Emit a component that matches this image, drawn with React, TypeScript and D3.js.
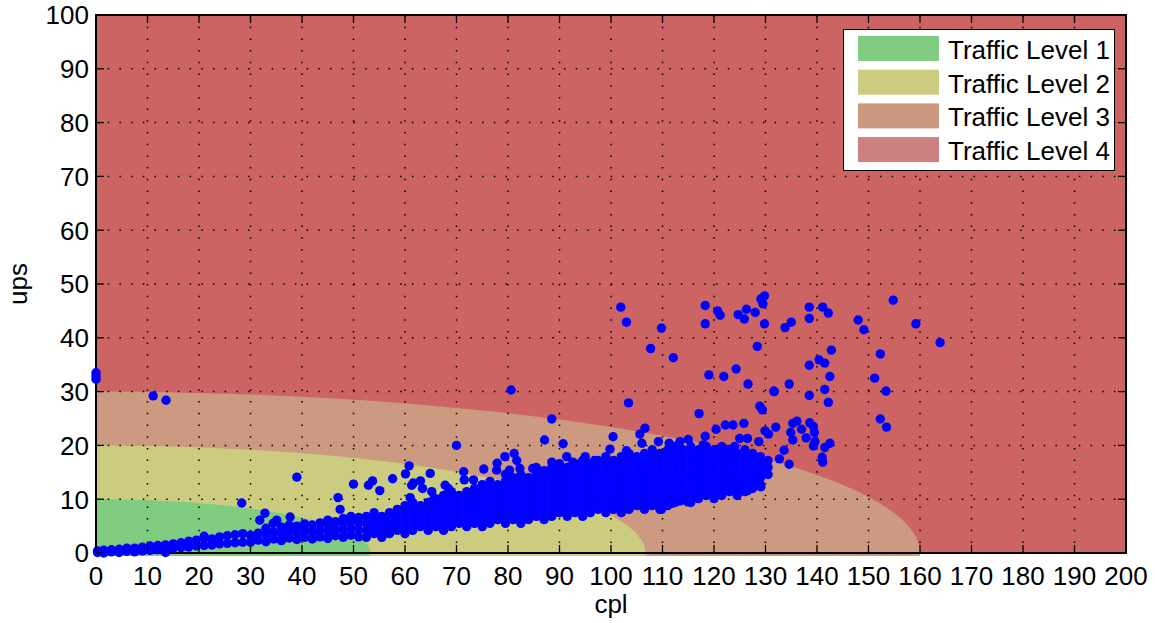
import React from "react";
import * as d3 from "d3";

const width = 1155;
const height = 623;
const margin = { top: 15, right: 29, bottom: 70, left: 96 };

const levelNames = ["Traffic Level 1", "Traffic Level 2", "Traffic Level 3", "Traffic Level 4"];
// semi-axes of each traffic zone (cpl, ups)
const levelCpl = [53.3, 106.7, 160];
const levelUps = [10, 20, 30];
const zoneFills = ["#80cc80", "#cccc80", "#cc9a80", "#cc6464"];
const legendFills = ["#80cc80", "#cccc80", "#cc9980", "#cc8080"];

// the dense band: [cpl, ups, ups, ...]
const bandColumns: number[][] = [
  [0.3, 0.1, 0.4], [1.5, 0.0, 0.5], [3, 0.2, 0.6], [4.5, 0.1, 0.7], [6, 0.3, 0.9],
  [7.5, 0.2, 0.9], [9, 0.4, 1.1], [10.5, 0.5, 1.3], [12, 0.6, 1.4], [13.5, 0.1, 0.8, 1.5],
  [15, 0.9, 1.7], [16.5, 1.0, 1.9], [18, 1.1, 2.2], [19.5, 1.3, 2.4], [21, 1.4, 2.7, 3.1],
  [22.5, 1.5, 2.6], [24, 1.7, 3.0], [25.5, 1.8, 3.2], [27, 1.9, 3.4], [28.5, 2.0, 3.6],
  [30, 2.0, 3.3], [31.5, 2.4, 3.7], [33, 2.1, 3.4, 4.6], [34.5, 2.6, 3.9], [36, 2.3, 3.6, 4.8],
  [37.5, 2.8, 4.1, 5.2], [39, 2.5, 3.8, 5.0], [40.5, 2.9, 4.2, 5.4], [42, 2.6, 3.9, 5.2],
  [43.5, 3.0, 4.3, 5.6], [45, 2.7, 4.0, 5.3, 6.1], [46.5, 3.2, 4.5, 5.8], [48, 2.9, 4.2, 5.5, 6.4],
  [49.5, 3.3, 4.6, 5.9, 6.8], [51, 3.0, 4.3, 5.6, 6.6],
  [52.5, 2.9, 4.2, 5.5, 6.8], [54, 3.6, 4.9, 6.2, 7.5], [55.5, 2.9, 4.2, 5.5, 6.8],
  [57, 3.6, 4.9, 6.2, 7.5], [58.5, 4.2, 5.5, 6.8, 8.1], [60, 3.6, 4.9, 6.2, 7.5, 8.8],
  [61.5, 4.2, 5.5, 6.8, 8.1, 9.4], [63, 4.9, 6.2, 7.5, 8.8], [64.5, 4.2, 5.5, 6.8, 8.1, 9.4],
  [66, 4.9, 6.2, 7.5, 8.8, 10.1], [67.5, 4.2, 5.5, 6.8, 8.1, 9.4, 10.7],
  [69, 4.9, 6.2, 7.5, 8.8, 10.1, 11.4], [70.5, 5.5, 6.8, 8.1, 9.4, 10.7],
  [72, 4.9, 6.2, 7.5, 8.8, 10.1, 11.4], [73.5, 5.5, 6.8, 8.1, 9.4, 10.7, 12.0],
  [75, 4.9, 6.2, 7.5, 8.8, 10.1, 11.4, 12.7], [76.5, 5.5, 6.8, 8.1, 9.4, 10.7, 12.0, 13.3],
  [78, 6.2, 7.5, 8.8, 10.1, 11.4, 12.7], [79.5, 5.5, 6.8, 8.1, 9.4, 10.7, 12.0, 13.3, 14.6],
  [81, 6.2, 7.5, 8.8, 10.1, 11.4, 12.7, 14.0], [82.5, 5.5, 6.8, 8.1, 9.4, 10.7, 12.0, 13.3, 14.6],
  [84, 6.2, 7.5, 8.8, 10.1, 11.4, 12.7, 14.0], [85.5, 6.8, 8.1, 9.4, 10.7, 12.0, 13.3, 14.6, 15.9],
  [87, 6.2, 7.5, 8.8, 10.1, 11.4, 12.7, 14.0, 15.3], [88.5, 6.8, 8.1, 9.4, 10.7, 12.0, 13.3, 14.6, 15.9],
  [90, 7.5, 8.8, 10.1, 11.4, 12.7, 14.0, 15.3, 16.6], [91.5, 6.8, 8.1, 9.4, 10.7, 12.0, 13.3, 14.6, 15.9],
  [93, 7.5, 8.8, 10.1, 11.4, 12.7, 14.0, 15.3, 16.6], [94.5, 6.8, 8.1, 9.4, 10.7, 12.0, 13.3, 14.6, 15.9, 17.2],
  [96, 7.5, 8.8, 10.1, 11.4, 12.7, 14.0, 15.3, 16.6], [97.5, 8.1, 9.4, 10.7, 12.0, 13.3, 14.6, 15.9, 17.2],
  [99, 7.5, 8.8, 10.1, 11.4, 12.7, 14.0, 15.3, 16.6, 17.9], [100.5, 8.1, 9.4, 10.7, 12.0, 13.3, 14.6, 15.9, 17.2],
  [102, 7.5, 8.8, 10.1, 11.4, 12.7, 14.0, 15.3, 16.6, 17.9],
  [103.5, 8.1, 9.4, 10.7, 12.0, 13.3, 14.6, 15.9, 17.2, 18.5],
  [105, 8.8, 10.1, 11.4, 12.7, 14.0, 15.3, 16.6, 17.9],
  [106.5, 8.1, 9.4, 10.7, 12.0, 13.3, 14.6, 15.9, 17.2, 18.5],
  [108, 8.8, 10.1, 11.4, 12.7, 14.0, 15.3, 16.6, 17.9, 19.2],
  [109.5, 8.1, 9.4, 10.7, 12.0, 13.3, 14.6, 15.9, 17.2, 18.5],
  [111, 8.8, 10.1, 11.4, 12.7, 14.0, 15.3, 16.6, 17.9, 19.2],
  [112.5, 9.4, 10.7, 12.0, 13.3, 14.6, 15.9, 17.2, 18.5, 19.8],
  [114, 10.1, 11.4, 12.7, 14.0, 15.3, 16.6, 17.9, 19.2],
  [115.5, 9.4, 10.7, 12.0, 13.3, 14.6, 15.9, 17.2, 18.5, 19.8],
  [117, 10.1, 11.4, 12.7, 14.0, 15.3, 16.6, 17.9, 19.2],
  [118.5, 10.7, 12.0, 13.3, 14.6, 15.9, 17.2, 18.5, 19.8],
  [120, 10.1, 11.4, 12.7, 14.0, 15.3, 16.6, 17.9, 19.2],
  [121.5, 10.7, 12.0, 13.3, 14.6, 15.9, 17.2, 18.5, 19.8],
  [123, 11.4, 12.7, 14.0, 15.3, 16.6, 17.9, 19.2],
  [124.5, 10.7, 12.0, 13.3, 14.6, 15.9, 17.2, 18.5],
  [126, 11.4, 12.7, 14.0, 15.3, 16.6, 17.9, 19.2],
  [127.5, 12.0, 13.3, 14.6, 15.9, 17.2, 18.5],
  [129, 12.7, 14.0, 15.3, 16.6, 17.9], [130.5, 14.6, 15.9, 17.2],
];

// scattered points outside the band: [cpl, ups]
const sparsePoints: [number, number][] = [
  [0, 32.3], [0, 32.9], [0, 33.5], [11.1, 29.2], [13.6, 28.4], [28.3, 9.3], [39, 14.1],
  [47, 10.3], [47.4, 8.1], [50, 12.8], [52.9, 12.6], [53.7, 13.4], [55.1, 11.6], [57.6, 13.8],
  [60.1, 14.7], [60.8, 16.2], [64.9, 14.8], [61.3, 12.6], [61.6, 13], [63, 13.4], [63.4, 12],
  [61, 10.3], [65.2, 11.4], [32.8, 7.4], [31.8, 6.1], [35.1, 6.1], [34.4, 5.5], [37.7, 6.7],
  [45.4, 5.8], [65.5, 9.9], [67.8, 12.6], [68.4, 12], [71.4, 15.1], [71.5, 13.6], [70, 20],
  [73.3, 13.6], [75.3, 15.6], [77.8, 15.4], [77.9, 16.7], [79.4, 17.9], [81.2, 18.5], [81.7, 17.2],
  [80.3, 15.4], [82.3, 15.7], [84.8, 15.7], [87.1, 21], [88.5, 24.9], [90.7, 20.3], [88.5, 16.9],
  [91.4, 17.9], [92.6, 16.9], [95, 17.9], [96.8, 17.2], [94.5, 16.5], [80.6, 30.3],
  [99.8, 19.3], [103, 19], [100.4, 21.6], [105.6, 22.1], [106.6, 23.2], [106, 20.4], [109.2, 20.7],
  [111.3, 20.4], [113.4, 20.7], [115, 21.1], [117.9, 20.1], [118.3, 21.7], [121.8, 19.5], [124, 19.8],
  [125, 21.3], [126.5, 21.3], [128.7, 20.7], [117.1, 25.9], [120.4, 23], [122.2, 23.8], [123.7, 23.8],
  [125.8, 24.1], [129.9, 22.7], [130.6, 22.1], [132, 23.4], [135.3, 24.1], [136.1, 24.5], [137, 23],
  [138.6, 24.2], [139.3, 23.5], [139.5, 22.4], [134.9, 22.4], [135.3, 21], [137.9, 21.4], [139.6, 20.7],
  [139.3, 19.9], [142.5, 20.4], [141.5, 19.6], [133.6, 19.1], [132.7, 17.5], [134.6, 16.5], [141, 17.8],
  [141.1, 16.9], [128.9, 27.3], [129.4, 26.6], [103.4, 27.9], [131.7, 30],
  [101.9, 45.7], [103, 42.9], [109.8, 41.8], [107.7, 38], [112.1, 36.3], [118.3, 46], [118.3, 42.6],
  [120.7, 45], [121.2, 44.2], [124.7, 44.3], [125.9, 43.5], [126.3, 45.3], [128, 44.7], [129.1, 47.2],
  [129.8, 47.8], [129.5, 46.3], [129.8, 42.6], [128.4, 38.4], [119, 33.1], [121.9, 32.8], [124.3, 34.2],
  [126.6, 31.4], [131.6, 30.1], [134.6, 31.4], [133.8, 41.9], [135, 42.9], [138.5, 45.7], [138.5, 43.6],
  [141.1, 45.7], [142.2, 44.6], [142.8, 37.7], [140.4, 35.9], [141.5, 35.3], [138.5, 34.9], [142.5, 32.8],
  [141.5, 30.4], [138.5, 29.3], [142.2, 28], [148, 43.3], [149.1, 41.5], [154.8, 47], [159.2, 42.6],
  [163.9, 39.1], [152.3, 37], [151.2, 32.5], [153.4, 30.1], [152.3, 24.9], [153.5, 23.4],
  [109.8, 8.1], [106.3, 8.5], [111.8, 9.2], [113.4, 9.7], [114.9, 9.5], [123.7, 11.7], [125.4, 12.3],
  [126.5, 11.6], [128.2, 13.9], [129.1, 12.3],
];

const font = "'Liberation Sans', Arial, sans-serif";

export default function App() {
  const x = d3.scaleLinear().domain([0, 200]).range([margin.left, width - margin.right]);
  const y = d3.scaleLinear().domain([0, 100]).range([height - margin.bottom, margin.top]);
  const xTicks = x.ticks(20);
  const yTicks = y.ticks(10);

  const points: [number, number][] = bandColumns
    .flatMap(([cx, ...ys]) => ys.map((v) => [cx, v] as [number, number]))
    .concat(sparsePoints);

  const x0 = x(0), y0 = y(0);
  const left = margin.left, right = width - margin.right;
  const top = margin.top, bottom = height - margin.bottom;
  const tickLen = 8;

  return (
    <svg width={width} height={height} style={{ position: "absolute", left: 0, top: 0 }} fontFamily={font}>
      <defs>
        <clipPath id="zones">
          <rect x={left} y={top} width={right - left} height={bottom - top + 3} />
        </clipPath>
      </defs>
      <rect x={left} y={top} width={right - left} height={bottom - top} fill={zoneFills[3]} />
      <g clipPath="url(#zones)">
        {[2, 1, 0].map((i) => (
          <ellipse key={i} cx={x0} cy={y0} rx={x(levelCpl[i]) - x0} ry={y0 - y(levelUps[i])} fill={zoneFills[i]} />
        ))}
      </g>
      <g stroke="#000" strokeWidth={1.5} strokeDasharray="1.5,10.2">
        {xTicks.slice(1, -1).map((t) => (
          <line key={"gx" + t} x1={x(t)} x2={x(t)} y1={top} y2={bottom} />
        ))}
        {yTicks.slice(1, -1).map((t) => (
          <line key={"gy" + t} x1={left} x2={right} y1={y(t)} y2={y(t)} />
        ))}
      </g>
      <rect x={left} y={top} width={right - left} height={bottom - top} fill="none" stroke="#000" strokeWidth={2} />
      <g fill="#0000ff">
        {points.map(([px, py], i) => (
          <circle key={i} cx={x(px)} cy={y(py)} r={4.7} />
        ))}
      </g>
      <g stroke="#000" strokeWidth={1.3}>
        {xTicks.map((t) => (
          <g key={"tx" + t}>
            <line x1={x(t)} x2={x(t)} y1={bottom} y2={bottom - tickLen} />
            <line x1={x(t)} x2={x(t)} y1={top} y2={top + tickLen} />
          </g>
        ))}
        {yTicks.map((t) => (
          <g key={"ty" + t}>
            <line x1={left} x2={left + tickLen} y1={y(t)} y2={y(t)} />
            <line x1={right} x2={right - tickLen} y1={y(t)} y2={y(t)} />
          </g>
        ))}
      </g>
      <g fontSize={26} fill="#000">
        {xTicks.map((t) => (
          <text key={"lx" + t} x={x(t)} y={bottom + 32} textAnchor="middle">{t}</text>
        ))}
        {yTicks.map((t) => (
          <text key={"ly" + t} x={left - 7} y={y(t) + 9.3} textAnchor="end">{t}</text>
        ))}
        <text x={(left + right) / 2} y={613} textAnchor="middle">cpl</text>
        <text transform={`translate(27,${(top + bottom) / 2}) rotate(-90)`} textAnchor="middle">ups</text>
      </g>
      <g>
        <rect x={843.5} y={29.5} width={271} height={141} fill="#fff" stroke="#000" strokeWidth={1} />
        {levelNames.map((name, i) => (
          <g key={name} transform={`translate(858,${36 + i * 33.7})`}>
            <rect width={81} height={25} fill={legendFills[i]} />
            <text x={90} y={23} fontSize={26}>{name}</text>
          </g>
        ))}
      </g>
    </svg>
  );
}
